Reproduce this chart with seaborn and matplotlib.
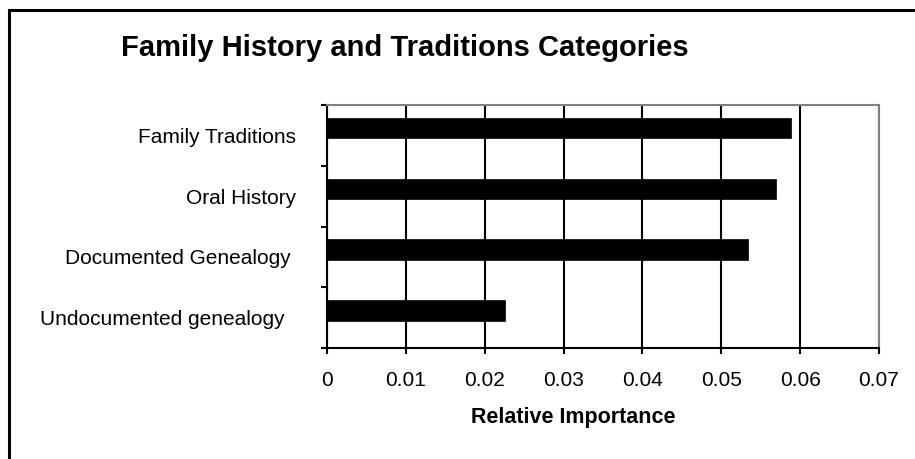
import matplotlib
matplotlib.use("Agg")
import matplotlib.pyplot as plt
from matplotlib.lines import Line2D
import seaborn as sns
import pandas as pd

categories = ["Family Traditions", "Oral History", "Documented Genealogy ", "Undocumented genealogy  "]
values = [0.0588, 0.0570, 0.0534, 0.0226]
x_ticks = [0, 0.01, 0.02, 0.03, 0.04, 0.05, 0.06, 0.07]
x_tick_labels = ["0", "0.01", "0.02", "0.03", "0.04", "0.05", "0.06", "0.07"]
title = "Family History and Traditions Categories"
x_label = "Relative Importance"

sns.set_style("white")
plt.rcParams["font.family"] = ["Liberation Sans", "DejaVu Sans"]
plt.rcParams["text.color"] = "black"
plt.rcParams["axes.labelcolor"] = "black"
plt.rcParams["xtick.color"] = "black"
plt.rcParams["ytick.color"] = "black"

df = pd.DataFrame({"category": categories, "value": values})

fig = plt.figure(figsize=(9.15, 4.59), dpi=100)
fig.patch.set_facecolor("white")
ax = fig.add_axes([327 / 915, 1 - 348 / 459, (879 - 327) / 915, (348 - 105) / 459])

sns.barplot(data=df, x="value", y="category", orient="h", color="black",
            width=0.34, saturation=1, edgecolor="black", linewidth=0.5, ax=ax, zorder=3)

ax.set_xlim(0, 0.07)
ax.set_ylim(3.62, -0.38)
ax.set_xticks(x_ticks)
ax.set_xticklabels(x_tick_labels, fontsize=15)
ax.set_yticks([i + 0.12 for i in range(len(categories))])
ax.set_yticklabels(categories, fontsize=15)
ax.set_yticks([-0.38 + k for k in range(len(categories) + 1)], minor=True)
ax.tick_params(axis="y", which="major", length=0, pad=22)
ax.tick_params(axis="y", which="minor", left=True, length=4.5, width=1.5, color="black", direction="out")
ax.tick_params(axis="x", which="major", bottom=True, length=4.5, width=1.5, color="black",
               direction="out", pad=12)

ax.set_axisbelow(True)
ax.grid(axis="x", color="black", linewidth=1.5)
ax.grid(axis="y", visible=False)

for side in ["left", "bottom"]:
    ax.spines[side].set_color("black")
    ax.spines[side].set_linewidth(1.5)
for side in ["top", "right"]:
    ax.spines[side].set_visible(True)
    ax.spines[side].set_color("#808080")
    ax.spines[side].set_linewidth(1.5)

ax.set_ylabel("")
ax.set_xlabel(x_label, fontsize=15.5, fontweight="bold")
ax.xaxis.set_label_coords((573 - 327) / (879 - 327), -(418 - 348) / (348 - 105))
ax.xaxis.label.set_verticalalignment("center")

fig.text(405 / 915, 1 - 48 / 459, title, fontsize=21, fontweight="bold",
         ha="center", va="center")

fig.add_artist(Line2D([9 / 915, 9 / 915, 1.01], [-0.01, 1 - 10 / 459, 1 - 10 / 459],
                      transform=fig.transFigure, color="black", linewidth=2.2,
                      solid_joinstyle="miter"))

fig.savefig("out.png", dpi=100, facecolor="white")
